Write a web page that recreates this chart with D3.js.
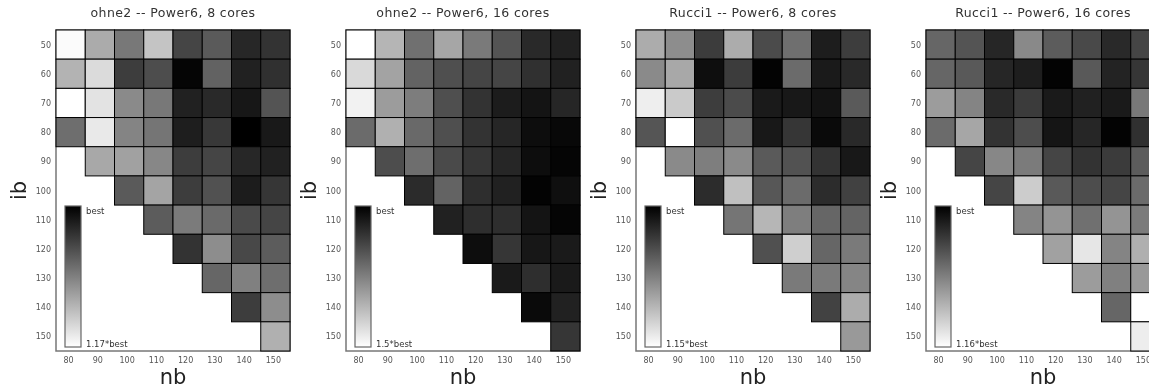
<!DOCTYPE html>
<html><head><meta charset="utf-8">
<script src="https://cdn.jsdelivr.net/npm/d3@7"></script>
<style>body{margin:0;background:#fff}svg{display:block;will-change:transform;-webkit-font-smoothing:antialiased}text{font-family:"DejaVu Sans",sans-serif}</style>
</head><body><svg id="c" width="1149" height="389"></svg>
<script>
// categories
const nbValues = [80, 90, 100, 110, 120, 130, 140, 150];
const ibValues = [50, 60, 70, 80, 90, 100, 110, 120, 130, 140, 150];
// panel titles and legend maxima (runtime relative to best)
const titles = ["ohne2 -- Power6, 8 cores", "ohne2 -- Power6, 16 cores", "Rucci1 -- Power6, 8 cores", "Rucci1 -- Power6, 16 cores"];
const maxLabels = ["1.17*best", "1.5*best", "1.15*best", "1.16*best"];
const maxOverhead = [17, 50, 15, 16]; // percent above best
// overhead in % above best; row per ib, entries for nb >= max(80, ib) up to 150
const ohne2_8 = [
  [16.7, 11.4, 8.0, 13.1, 4.6, 6.0, 2.6, 3.4],
  [11.9, 14.6, 4.1, 5.1, 0.3, 6.5, 2.2, 3.2],
  [17.0, 15.1, 9.2, 8.0, 2.2, 2.7, 1.5, 5.6],
  [7.3, 15.5, 8.8, 7.8, 2.0, 3.7, 0.0, 1.7],
  [11.2, 10.7, 9.0, 4.1, 4.6, 2.6, 2.2],
  [6.0, 10.9, 4.1, 5.4, 1.9, 3.6],
  [6.1, 8.2, 7.1, 4.9, 4.6],
  [3.4, 9.4, 4.8, 6.1],
  [6.8, 8.5, 7.3],
  [4.1, 9.4],
  [11.7]
];
const ohne2_16 = [
  [50, 35.5, 22, 32.5, 24, 16.5, 8, 6.5],
  [42.5, 32, 19.5, 15.5, 13.5, 13.5, 9.5, 6.5],
  [47.5, 30.5, 24.5, 15.5, 10, 5.5, 4, 7.5],
  [21, 34.5, 20.5, 15.5, 10, 7.5, 2.5, 1.5],
  [15, 21.5, 14.5, 10.5, 7.5, 2.5, 1],
  [8.5, 19.5, 9, 6.5, 0.5, 3],
  [6.5, 9, 9, 4, 1],
  [2.5, 10.5, 4.5, 5],
  [5, 9, 5],
  [2, 6.5],
  [10.5]
];
const rucci1_8 = [
  [10.1, 8.3, 3.5, 10.1, 4.4, 6.5, 1.7, 3.6],
  [8.1, 9.9, 0.8, 3.5, 0.2, 6.3, 1.5, 2.4],
  [14.0, 11.9, 3.6, 4.4, 1.5, 1.4, 1.1, 5.3],
  [5.0, 15.0, 4.7, 6.3, 1.4, 3.2, 0.6, 2.4],
  [8.1, 7.4, 8.1, 5.3, 4.8, 3.0, 1.4],
  [2.6, 11.3, 5.1, 6.3, 2.6, 3.8],
  [6.9, 10.7, 7.4, 6.0, 5.9],
  [4.7, 12.2, 6.0, 7.2],
  [7.2, 7.2, 7.8],
  [3.9, 10.1],
  [9.0]
];
const rucci1_16 = [
  [6.4, 5.3, 2.4, 8.6, 5.8, 4.6, 2.6, 4.3],
  [6.4, 5.6, 2.4, 1.9, 0.2, 5.6, 2.2, 3.4],
  [9.8, 8.3, 2.6, 3.7, 1.6, 2.1, 1.6, 7.5],
  [6.7, 10.4, 3.2, 4.8, 1.3, 2.4, 0.2, 3.0],
  [4.3, 8.5, 7.7, 4.3, 3.2, 3.7, 5.8],
  [4.3, 12.8, 5.6, 4.8, 4.3, 6.7],
  [8.3, 9.3, 7.0, 9.3, 7.7],
  [10.1, 14.4, 8.3, 11.0],
  [9.8, 8.0, 9.6],
  [6.4, 16.0],
  [14.9]
];
const panelData = [ohne2_8, ohne2_16, rucci1_8, rucci1_16];

const svg = d3.select("#c");
const gridLefts = [56, 346, 636, 926];
const gridTop = 30, gridW = 234, gridH = 321;

const defs = svg.append("defs");
const grad = defs.append("linearGradient").attr("id", "lg").attr("x1", 0).attr("y1", 0).attr("x2", 0).attr("y2", 1);
grad.append("stop").attr("offset", "0%").attr("stop-color", "#000");
grad.append("stop").attr("offset", "100%").attr("stop-color", "#fff");

panelData.forEach((rows, p) => {
  const x0 = gridLefts[p];
  const g = svg.append("g");
  const x = d3.scaleBand().domain(nbValues).range([x0, x0 + gridW]).padding(0);
  const y = d3.scaleBand().domain(ibValues).range([gridTop, gridTop + gridH]).padding(0);
  const color = d3.scaleLinear().domain([0, maxOverhead[p]]).range(["#000", "#fff"]).clamp(true);

  const cells = [];
  rows.forEach((r, i) => {
    const ib = ibValues[i];
    const startNb = Math.max(80, ib);
    const nbs = nbValues.filter(v => v >= startNb);
    r.forEach((v, j) => cells.push({ib, nb: nbs[j], v}));
  });

  // frame
  g.append("rect").attr("x", x0).attr("y", gridTop).attr("width", gridW).attr("height", gridH)
    .attr("fill", "none").attr("stroke", "#777").attr("stroke-width", 1.5);

  g.selectAll("rect.cell").data(cells).join("rect").attr("class", "cell")
    .attr("x", d => x(d.nb)).attr("y", d => y(d.ib))
    .attr("width", x.bandwidth()).attr("height", y.bandwidth())
    .attr("fill", d => color(d.v)).attr("stroke", "#000").attr("stroke-width", 1);

  // y ticks
  g.selectAll("text.yt").data(ibValues).join("text").attr("class", "yt")
    .attr("x", x0 - 5).attr("y", d => y(d) + y.bandwidth() / 2 + 3)
    .attr("text-anchor", "end").attr("font-size", 8).attr("fill", "#555").text(d => d);
  // x ticks
  g.selectAll("text.xt").data(nbValues).join("text").attr("class", "xt")
    .attr("x", d => x(d) + x.bandwidth() / 2 - 2).attr("y", 363)
    .attr("text-anchor", "middle").attr("font-size", 8).attr("fill", "#555").text(d => d);

  // title
  g.append("text").attr("x", x0 + gridW / 2).attr("y", 17).attr("text-anchor", "middle")
    .attr("font-size", 12.5).attr("letter-spacing", 0.4).attr("fill", "#333").text(titles[p]);
  // axis labels
  g.append("text").attr("x", x0 + gridW / 2).attr("y", 384).attr("text-anchor", "middle")
    .attr("font-size", 21).attr("fill", "#222").text("nb");
  g.append("text").attr("transform", `translate(${x0 - 30},${gridTop + gridH / 2}) rotate(-90)`)
    .attr("text-anchor", "middle").attr("font-size", 21).attr("fill", "#222").text("ib");

  // legend
  const lx = x0 + 9, ly = 206, lh = 141;
  g.append("rect").attr("x", lx).attr("y", ly).attr("width", 16).attr("height", lh)
    .attr("fill", "url(#lg)").attr("stroke", "#666").attr("stroke-width", 1.2);
  g.append("text").attr("x", lx + 21).attr("y", ly + 8).attr("font-size", 8.5).attr("fill", "#333").text("best");
  g.append("text").attr("x", lx + 21).attr("y", ly + lh - 0.5).attr("font-size", 8.5).attr("fill", "#333").text(maxLabels[p]);
});
</script></body></html>
